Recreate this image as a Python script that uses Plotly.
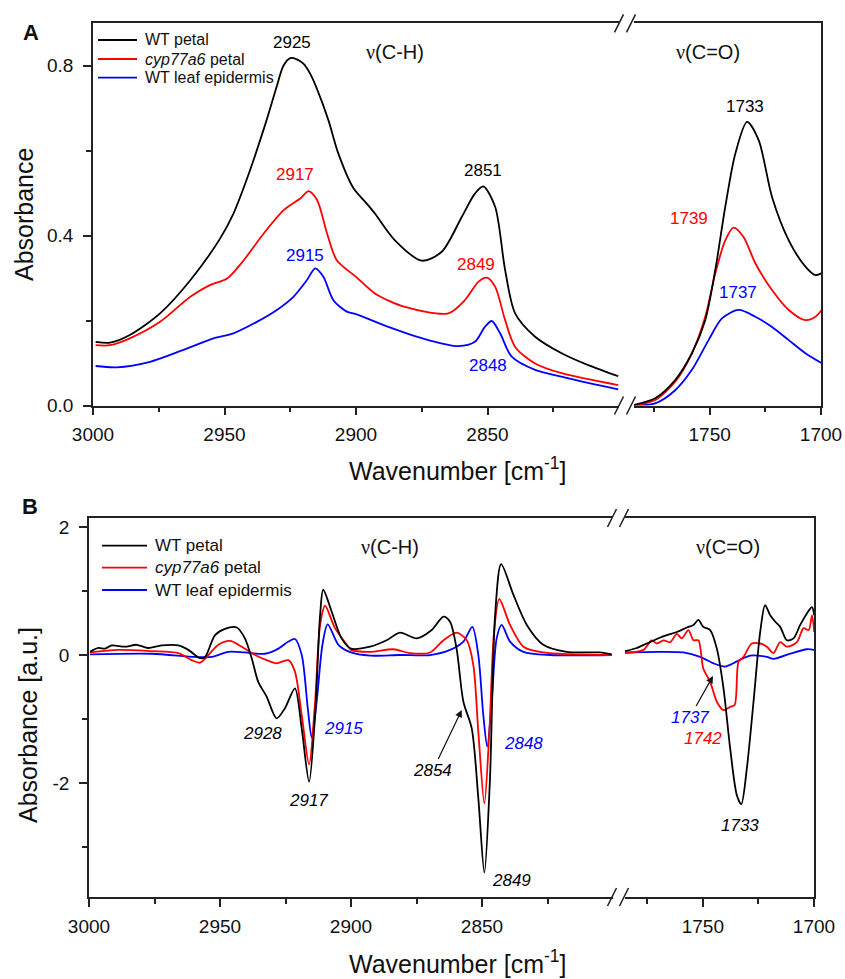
import plotly.graph_objects as go

W, H = 845, 979
FONT = "Liberation Sans, Arial, sans-serif"
BLACK, RED, BLUE = "#000000", "#ff0000", "#0000ff"

# ---------------- Panel A : absorbance, C-H region ----------------
A_CH_WT_WN = [2999, 2993.5, 2986, 2974.5, 2963, 2951.7, 2946.6, 2940.3, 2934, 2930.2, 2927.6,
              2925, 2922.5, 2920, 2917.5, 2915, 2910.5, 2906.7, 2901, 2896, 2892.8, 2885.2,
              2875, 2867.4, 2859.8, 2854.8, 2851.6, 2847.1, 2843.3, 2839.5, 2831.9, 2821.8,
              2811.7, 2800.3]
A_CH_WT_ABS = [0.150, 0.148, 0.166, 0.217, 0.295, 0.393, 0.452, 0.554, 0.672, 0.750, 0.800,
               0.818, 0.815, 0.805, 0.782, 0.748, 0.672, 0.593, 0.512, 0.476, 0.452, 0.389,
               0.341, 0.362, 0.444, 0.499, 0.516, 0.468, 0.319, 0.217, 0.162, 0.123,
               0.095, 0.069]

A_CH_CYP_WN = [2999, 2993.5, 2986, 2974.5, 2963, 2955.4, 2949, 2942.7, 2935.1, 2927.5, 2921.1,
               2918, 2914.8, 2911, 2907.3, 2900, 2892.8, 2881.4, 2864.9, 2858.6, 2853.5, 2850.3,
               2847.1, 2843.3, 2839.5, 2831.9, 2821.8, 2800.3]
A_CH_CYP_ABS = [0.142, 0.142, 0.158, 0.197, 0.256, 0.284, 0.299, 0.342, 0.405, 0.460, 0.488,
                0.505, 0.484, 0.405, 0.342, 0.303, 0.264, 0.232, 0.217, 0.248, 0.291, 0.301,
                0.280, 0.201, 0.138, 0.099, 0.076, 0.048]

A_CH_LEAF_WN = [2999, 2991, 2978.3, 2965.6, 2954.2, 2946.6, 2937.7, 2930.1, 2923.8, 2918.7, 2915.5,
                2912.4, 2908.6, 2903.5, 2900, 2887.7, 2872.5, 2861.1, 2854.8, 2851, 2848.4,
                2845.2, 2840.8, 2831.9, 2819.2, 2800.3]
A_CH_LEAF_ABS = [0.093, 0.090, 0.103, 0.131, 0.158, 0.170, 0.197, 0.225, 0.256, 0.295, 0.323,
                 0.303, 0.248, 0.221, 0.215, 0.185, 0.154, 0.140, 0.150, 0.185, 0.199,
                 0.170, 0.115, 0.084, 0.064, 0.038]

# ---------------- Panel A : absorbance, C=O region ----------------
A_CO_WT_WN = [1784.3, 1774.5, 1765.5, 1758, 1752, 1747.5, 1743, 1738.5, 1733.2, 1728, 1722,
              1714.5, 1707, 1702.5, 1699.5]
A_CO_WT_ABS = [0.001, 0.017, 0.060, 0.123, 0.201, 0.319, 0.468, 0.593, 0.668, 0.625, 0.491,
               0.389, 0.327, 0.307, 0.312]

A_CO_CYP_WN = [1784.3, 1774.5, 1765.5, 1758, 1752, 1747.5, 1743, 1739.3, 1734.8, 1729.5, 1722,
               1714.5, 1707, 1702.5, 1699.5]
A_CO_CYP_ABS = [0.000, 0.013, 0.056, 0.123, 0.209, 0.311, 0.389, 0.419, 0.397, 0.335, 0.272,
                0.225, 0.201, 0.209, 0.226]

A_CO_LEAF_WN = [1784.3, 1774.5, 1765.5, 1758, 1750.5, 1744.5, 1737, 1729.5, 1722, 1714.5, 1707,
                1699.5]
A_CO_LEAF_ABS = [0.000, 0.005, 0.036, 0.084, 0.154, 0.205, 0.225, 0.209, 0.185, 0.154, 0.123,
                 0.099]

# ---------------- Panel B : second derivative, C-H region ----------------
B_CH_WT_WN = [2999.6, 2996.4, 2993.9, 2991.3, 2986.3, 2981.8, 2977.4, 2972.3, 2965.9, 2962.1,
              2957.6, 2955.7, 2951.9, 2948.1, 2943.6, 2940.5, 2937.9, 2935.4, 2932.2, 2928.4,
              2925.2, 2921.4, 2918.8, 2916, 2913.7, 2911.8, 2910.6, 2907.4, 2903.6, 2900,
              2892.7, 2886.4, 2881.3, 2874.9, 2869.2, 2864.7, 2862.2, 2859.7, 2857.1, 2853.9,
              2851.4, 2849.1, 2847, 2845, 2842.7, 2838, 2832.9, 2826.6, 2817.7, 2805, 2800.5]
B_CH_WT_D2 = [0.05, 0.11, 0.10, 0.15, 0.13, 0.16, 0.11, 0.15, 0.15, 0.08,
              -0.05, -0.03, 0.31, 0.41, 0.43, 0.26, -0.05, -0.42, -0.65, -0.99,
              -0.83, -0.52, -1.15, -1.98, -0.94, 0.62, 1.02, 0.68, 0.26, 0.10,
              0.13, 0.23, 0.35, 0.26, 0.39, 0.60, 0.52, 0.10, -0.73, -1.15,
              -2.24, -3.40, -1.98, 0.62, 1.42, 0.94, 0.47, 0.16, 0.05, 0.04, 0.01]

B_CH_CYP_WN = [2999.6, 2988.8, 2976.1, 2965.9, 2960.8, 2957.6, 2954.4, 2950.6, 2946.2, 2941.7,
               2936.6, 2932.2, 2928.4, 2923.9, 2921.4, 2918.8, 2916, 2913.7, 2911.8, 2909.9,
               2906.1, 2901, 2900, 2892.7, 2883.8, 2877.5, 2869.8, 2864.7, 2859.7, 2855.8,
               2853.3, 2851.4, 2849.1, 2847.2, 2845.4, 2843.4, 2839.3, 2834.2, 2826.6, 2800.5]
B_CH_CYP_D2 = [0.04, 0.08, 0.06, 0.03, -0.08, -0.12, 0.00, 0.16, 0.22, 0.13,
               0.00, -0.08, -0.13, -0.08, -0.26, -0.94, -1.71, -0.73, 0.47, 0.77,
               0.42, 0.13, 0.08, 0.05, 0.09, 0.03, 0.04, 0.23, 0.35, 0.23,
               -0.16, -1.20, -2.32, -1.20, 0.36, 0.875, 0.47, 0.13, 0.04, 0.00]

B_CH_LEAF_WN = [2999.6, 2976.1, 2959.5, 2953.1, 2946.8, 2940.5, 2932.8, 2927.7, 2923.9, 2921.4,
                2918.8, 2916.5, 2915, 2913.1, 2910.9, 2908.9, 2904.8, 2900, 2892.7, 2881.3,
                2869.8, 2862.2, 2857.1, 2853.7, 2851.4, 2849.5, 2848, 2846.3, 2844.4, 2842.5,
                2839.3, 2834.2, 2824, 2800.5]
B_CH_LEAF_D2 = [0.01, 0.02, -0.03, -0.03, 0.05, 0.04, 0.02, 0.10, 0.21, 0.25,
                0.00, -0.83, -1.29, -0.73, 0.16, 0.48, 0.16, 0.04, -0.01, 0.00,
                0.00, 0.08, 0.21, 0.44, 0.00, -0.94, -1.43, -0.73, 0.26, 0.47,
                0.21, 0.05, 0.00, 0.00]

# ---------------- Panel B : second derivative, C=O region ----------------
B_CO_WT_WN = [1785, 1779.7, 1775.2, 1770.7, 1766.2, 1761.7, 1757.2, 1754.2, 1752, 1749.8,
              1746.7, 1743.7, 1740.7, 1737.7, 1734.7, 1732.7, 1730.2, 1727.2, 1724.2, 1722,
              1719.7, 1717.4, 1715.2, 1712.2, 1709.2, 1706.2, 1703.2, 1700.9, 1699.9]
B_CO_WT_D2 = [0.06, 0.11, 0.18, 0.25, 0.31, 0.36, 0.43, 0.47, 0.55, 0.44,
              0.39, 0.10, -0.52, -1.46, -2.19, -2.33, -1.77, -0.73, 0.36, 0.78,
              0.62, 0.52, 0.44, 0.23, 0.26, 0.47, 0.65, 0.75, 0.62]

B_CO_CYP_WN = [1785, 1776.7, 1773, 1770.7, 1767.7, 1764.7, 1761.7, 1759.5, 1756.5, 1754.2,
               1752, 1749.8, 1746.7, 1743.7, 1740.7, 1737.7, 1735.7, 1733.9, 1731.7, 1728,
               1724.2, 1721.2, 1718.2, 1715.2, 1712.2, 1707.7, 1704.7, 1702.4, 1700.9, 1699.9]
B_CO_CYP_D2 = [0.03, 0.08, 0.23, 0.18, 0.23, 0.20, 0.33, 0.26, 0.39, 0.23,
               0.23, -0.21, -0.42, -0.73, -0.86, -0.81, -0.78, -0.10, -0.03, 0.18,
               0.18, 0.13, 0.03, 0.20, 0.13, 0.20, 0.42, 0.39, 0.62, 0.36]

B_CO_LEAF_WN = [1785, 1769.2, 1758.7, 1751.2, 1745.2, 1740, 1734.7, 1728.7, 1721.2, 1718.2,
                1710.7, 1703.2, 1699.9]
B_CO_LEAF_D2 = [0.04, 0.05, 0.04, -0.03, -0.13, -0.18, -0.10, -0.01, -0.03, -0.06,
                0.02, 0.09, 0.08]

SERIES_NAMES = ["WT petal", "<i>cyp77a6</i> petal", "WT leaf epidermis"]
SERIES_COLORS = [BLACK, RED, BLUE]

A_TICKS = [0.0, 0.4, 0.8]
A_MINOR = [0.2, 0.6]
B_TICKS = [2, 0, -2]
B_TICK_TEXT = ["2", "0", "-2"]
B_MINOR = [1, -1, -3]
CH_TICKS = [3000, 2950, 2900, 2850]
CH_MINOR = [2975, 2925, 2875, 2825]
CO_TICKS = [1750, 1700]
CO_MINOR = [1775, 1725]


def px(x):
    return x / W


def py(y):
    return 1 - y / H


fig = go.Figure()

panels = [
    ("x", "y", [(A_CH_WT_WN, A_CH_WT_ABS), (A_CH_CYP_WN, A_CH_CYP_ABS), (A_CH_LEAF_WN, A_CH_LEAF_ABS)]),
    ("x2", "y2", [(A_CO_WT_WN, A_CO_WT_ABS), (A_CO_CYP_WN, A_CO_CYP_ABS), (A_CO_LEAF_WN, A_CO_LEAF_ABS)]),
    ("x3", "y3", [(B_CH_WT_WN, B_CH_WT_D2), (B_CH_CYP_WN, B_CH_CYP_D2), (B_CH_LEAF_WN, B_CH_LEAF_D2)]),
    ("x4", "y4", [(B_CO_WT_WN, B_CO_WT_D2), (B_CO_CYP_WN, B_CO_CYP_D2), (B_CO_LEAF_WN, B_CO_LEAF_D2)]),
]
for xa, ya, data in panels:
    for i in [2, 1, 0]:
        xs, ys = data[i]
        fig.add_trace(go.Scatter(
            x=xs, y=ys, xaxis=xa, yaxis=ya, mode="lines",
            line=dict(color=SERIES_COLORS[i], width=1.8, shape="spline", smoothing=0.8),
            name=SERIES_NAMES[i], showlegend=False, hoverinfo="skip"))

AX_COLOR = "#222222"
tickfont = dict(family=FONT, size=19, color="#111")


def xaxis(domain, rng, ticks, minor, anchor):
    return dict(domain=domain, range=rng, anchor=anchor, showline=True, mirror=True,
                linecolor=AX_COLOR, linewidth=1.6, ticks="outside", ticklen=8, tickwidth=1.6,
                tickcolor=AX_COLOR, tickvals=ticks, ticktext=[str(t) for t in ticks],
                minor=dict(tickvals=minor, ticks="outside", ticklen=5, tickwidth=1.6,
                           tickcolor=AX_COLOR, showgrid=False),
                tickfont=tickfont, showgrid=False, zeroline=False, automargin=False,
                ticklabelstandoff=3)


def yaxis_left(domain, rng, ticks, text, minor, anchor):
    return dict(domain=domain, range=rng, anchor=anchor, side="left", showline=True,
                mirror=False, linecolor=AX_COLOR, linewidth=1.6, ticks="outside", ticklen=8,
                tickwidth=1.6, tickcolor=AX_COLOR, tickvals=ticks, ticktext=text,
                minor=dict(tickvals=minor, ticks="outside", ticklen=5, tickwidth=1.6,
                           tickcolor=AX_COLOR, showgrid=False),
                tickfont=tickfont, showgrid=False, zeroline=False, automargin=False,
                ticklabelstandoff=6)


def yaxis_right(domain, rng, anchor):
    return dict(domain=domain, range=rng, anchor=anchor, side="right", showline=True,
                mirror=False, linecolor=AX_COLOR, linewidth=1.6, ticks="",
                showticklabels=False, showgrid=False, zeroline=False, automargin=False)


A_Y = [py(405.5), py(23.3)]
B_Y = [py(897), py(518)]
A_XL = [px(93), px(619)]
A_XR = [px(634), px(821)]
B_XL = [px(89), px(613)]
B_XR = [px(625), px(814)]

fig.update_layout(
    width=W, height=H, margin=dict(l=0, r=0, t=0, b=0),
    paper_bgcolor="white", plot_bgcolor="white", showlegend=False,
    font=dict(family=FONT, color="#111"),
    xaxis=xaxis(A_XL, [3000, 2800], CH_TICKS, CH_MINOR, "y"),
    xaxis2=xaxis(A_XR, [1784, 1700], CO_TICKS, CO_MINOR, "y2"),
    xaxis3=xaxis(B_XL, [3000, 2800], CH_TICKS, CH_MINOR, "y3"),
    xaxis4=xaxis(B_XR, [1785, 1700], CO_TICKS, CO_MINOR, "y4"),
    yaxis=yaxis_left(A_Y, [0, 0.9], A_TICKS, ["%.1f" % t for t in A_TICKS], A_MINOR, "x"),
    yaxis2=yaxis_right(A_Y, [0, 0.9], "x2"),
    yaxis3=yaxis_left(B_Y, [-3.781, 2.141], B_TICKS, B_TICK_TEXT, B_MINOR, "x3"),
    yaxis4=yaxis_right(B_Y, [-3.781, 2.141], "x4"),
)

shapes = []
# axis break marks "//"
for (c1, c2, ytop, ybot) in [(619, 631, 23.3, 405.5), (612, 624, 518, 897)]:
    for yc in (ytop, ybot):
        for xc in (c1, c2):
            shapes.append(dict(type="line", xref="paper", yref="paper",
                               x0=px(xc - 4.5), y0=py(yc + 9), x1=px(xc + 4.5), y1=py(yc - 9),
                               line=dict(color=AX_COLOR, width=1.6)))

LEGENDS = [(98, 137, 143, [40, 59, 77.7], 16),
           (102, 147, 153, [545.7, 567.7, 590], 17)]
for (lx0, lx1, tx, rows, fs) in LEGENDS:
    for i, ry in enumerate(rows):
        shapes.append(dict(type="line", xref="paper", yref="paper",
                           x0=px(lx0), x1=px(lx1), y0=py(ry), y1=py(ry),
                           line=dict(color=SERIES_COLORS[i], width=1.8)))
fig.update_layout(shapes=shapes)

ann = []


def label(x, y, text, color="#111", size=17, italic=False, xanchor="center", **kw):
    t = "<i>%s</i>" % text if italic else text
    ann.append(dict(x=px(x), y=py(y), xref="paper", yref="paper", text=t, showarrow=False,
                    xanchor=xanchor, yanchor="middle",
                    font=dict(family=FONT, size=size, color=color), **kw))


for (lx0, lx1, tx, rows, fs) in LEGENDS:
    for i, ry in enumerate(rows):
        label(tx, ry, SERIES_NAMES[i], size=fs, xanchor="left")

NU = '<span style="font-family:Liberation Serif">&#957;</span>'
label(31, 32, "<b>A</b>", size=22)
label(30, 506, "<b>B</b>", size=22)
label(395, 52, NU + "(C-H)", size=20)
label(708, 52, NU + "(C=O)", size=20)
label(390, 547, NU + "(C-H)", size=20)
label(728, 547, NU + "(C=O)", size=20)

# axis titles
label(457, 469, "Wavenumber [cm<sup>-1</sup>]", size=25)
label(457, 962, "Wavenumber [cm<sup>-1</sup>]", size=25)
label(24, 215, "Absorbance", size=25, textangle=-90)
label(28, 725, "Absorbance [a.u.]", size=25, textangle=-90)

# peak labels, panel A
label(292, 42, "2925", BLACK)
label(295, 175, "2917", RED)
label(305, 255, "2915", BLUE)
label(483, 170, "2851", BLACK)
label(476, 264, "2849", RED)
label(488, 365, "2848", BLUE)
label(745, 106, "1733", BLACK)
label(689, 219, "1739", RED)
label(738, 293, "1737", BLUE)

# peak labels, panel B (italic)
label(262, 733, "2928", BLACK, italic=True)
label(308, 800, "2917", BLACK, italic=True)
label(343, 728, "2915", BLUE, italic=True)
label(511, 880, "2849", BLACK, italic=True)
label(523, 743, "2848", BLUE, italic=True)
label(703, 738, "1742", RED, italic=True)
label(740, 825, "1733", BLACK, italic=True)

# labels with arrows pointing to shoulders
for (text, color, lx, ly, hx, hy) in [("2854", BLACK, 433, 770, 461.7, 710),
                                      ("1737", BLUE, 690, 717, 713, 676)]:
    ann.append(dict(x=px(hx), y=py(hy), xref="paper", yref="paper",
                    text="<i>%s</i>" % text, font=dict(family=FONT, size=17, color=color),
                    showarrow=True, ax=lx - hx, ay=ly - hy, axref="pixel", ayref="pixel",
                    arrowhead=2, arrowsize=1.2, arrowwidth=1.2, arrowcolor="#111",
                    standoff=0, startstandoff=0))

fig.update_layout(annotations=ann)
fig.write_html("out.html", config={"displayModeBar": False},
               post_script="document.body.style.margin='0px';")
